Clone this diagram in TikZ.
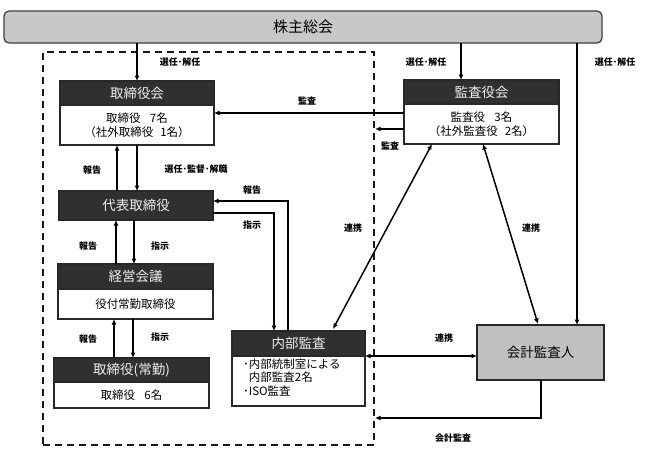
\documentclass[tikz,border=0pt]{standalone}
\usepackage{fontspec}
\setmainfont{Noto Sans CJK JP}
\usetikzlibrary{arrows.meta,calc}
\definecolor{hdrfill}{RGB}{48,48,48}
\definecolor{kabufill}{RGB}{200,200,200}
\definecolor{kkfill}{RGB}{192,192,192}
\definecolor{edge}{RGB}{40,40,40}
\begin{document}
\begin{tikzpicture}[x=1pt,y=-1pt,
  boxbase/.style={draw=edge,line width=1.1pt,anchor=north west,inner sep=0pt,outer sep=0pt},
  hdr/.style={boxbase,fill=hdrfill,text=white!94!black,font=\fontsize{13.5}{15}\selectfont},
  bdy/.style={boxbase,fill=white,align=center,font=\fontsize{11.5}{14.5}\selectfont},
  lbl/.style={font=\bfseries\fontsize{9}{10}\selectfont,inner sep=1pt},
  arr/.style={-{Latex[length=5.5pt,width=5pt]},line width=1.5pt},
  darr/.style={{Latex[length=5.5pt,width=5pt]}-{Latex[length=5.5pt,width=5pt]},line width=1.5pt}]
\useasboundingbox (0,0) rectangle (649,469);
% group (dashed)
\node[draw=black!90,line width=2pt,dash pattern=on 7pt off 5pt,anchor=north west,inner sep=0pt,
  minimum width=331pt,minimum height=393pt] (grp) at (42,51) {};
% shareholders
\node[boxbase,draw=black!75,line width=1.3pt,fill=kabufill,rounded corners=5pt,minimum width=598pt,minimum height=32pt,
  font=\fontsize{15}{17}\selectfont] (kabu) at (4,11) {株主総会};
% board
\node[hdr,minimum width=154pt,minimum height=24pt] (tbh) at (60,81) {取締役会};
\node[bdy,minimum width=154pt,minimum height=40pt] (tbb) at (60,105) {取締役\hspace{0.8em}7名\\（社外取締役\hspace{0.6em}1名）};
% auditors
\node[hdr,minimum width=155pt,minimum height=24pt] (kbh) at (404,80) {監査役会};
\node[bdy,minimum width=155pt,minimum height=40pt] (kbb) at (404,104) {監査役\hspace{0.8em}3名\\（社外監査役\hspace{0.6em}2名）};
% representative director
\node[hdr,minimum width=154pt,minimum height=29pt] (dh) at (59,191) {代表取締役};
% management meeting
\node[hdr,minimum width=155pt,minimum height=25pt] (kgh) at (58,264) {経営会議};
\node[bdy,minimum width=155pt,minimum height=30pt] (kgb) at (58,289) {役付常勤取締役};
% full-time directors
\node[hdr,minimum width=155pt,minimum height=24pt] (jh) at (54,358) {取締役(常勤)};
\node[bdy,minimum width=155pt,minimum height=26pt] (jb) at (54,382) {取締役\hspace{0.8em}6名};
% internal audit
\node[hdr,minimum width=133pt,minimum height=25pt] (nh) at (232,331) {内部監査};
\node[bdy,minimum width=133pt,minimum height=50pt] (nb) at (232,356) {};
\node[anchor=north west,align=left,inner sep=0pt,font=\fontsize{11.5}{13.5}\selectfont] (nbt) at (243,358.5)
  {･内部統制室による\\\hphantom{･}内部監査2名\\･ISO監査};
% accounting auditor
\node[boxbase,fill=kkfill,line width=1.3pt,minimum width=127pt,minimum height=55pt,font=\fontsize{13.5}{15}\selectfont] (kk) at (477,325) {会計監査人};

% helper coordinates
\coordinate (kbtop) at ($(kbh.north west)+(57,0)$);
\coordinate (kktop) at ($(kk.north west)+(100,0)$);
\coordinate (kbw1) at ($(kbb.north west)+(0,9)$);
\coordinate (kbw2) at ($(kbb.north west)+(0,25)$);
\coordinate (u1) at ($(tbb.south west)+(57,0)$);
\coordinate (u2) at ($(dh.south west)+(57,0)$);
\coordinate (v2) at ($(dh.south west)+(75,0)$);
\coordinate (u3) at ($(kgb.south west)+(56,0)$);
\coordinate (v3) at ($(kgb.south west)+(75,0)$);
\coordinate (n1) at ($(nh.north west)+(56,0)$);
\coordinate (d1) at ($(dh.north east)+(0,10)$);
\coordinate (n2) at ($(nh.north west)+(42,0)$);
\coordinate (d2) at ($(dh.north east)+(0,22)$);
\coordinate (kb1) at ($(kbb.south west)+(28,0)$);
\coordinate (n3) at ($(nh.north west)+(101,-2)$);
\coordinate (kb2) at ($(kbb.south west)+(79,0)$);
\coordinate (kk1) at ($(kk.north west)+(61,-1)$);
\coordinate (kk2) at ($(kk.south west)+(64,0)$);
\coordinate (g1) at ($(kk.south west)+(64,38)$);

% connectors
\draw[arr] (kabu.south -| tbh.north) -- (tbh.north);
\draw[arr] (kabu.south -| kbtop) -- (kbtop);
\draw[arr] (kabu.south -| kktop) -- (kktop);
\draw[arr] (kbw1) -- (kbw1 -| tbb.east);
\draw[arr] (kbw2) -- (kbw2 -| grp.east);
\draw[arr] (u1 |- dh.north) -- (u1);
\draw[arr] (tbb.south) -- (tbb.south |- dh.north);
\draw[arr] (u2 |- kgh.north) -- (u2);
\draw[arr] (v2) -- (v2 |- kgh.north);
\draw[arr] (u3 |- jh.north) -- (u3);
\draw[arr] (v3) -- (v3 |- jh.north);
\draw[arr] (n1) |- (d1);
\draw[arr] (d2) -| (n2);
\draw[darr] (kb1) -- (n3);
\draw[darr] (kb2) -- (kk1);
\draw[darr] (nb.north east) -- (nb.north east -| kk.west);
\draw[arr] (kk2) |- (g1 -| grp.east);

% labels
\node[lbl] (l1) at (180,62) {選任･解任};
\node[lbl] (l2) at (426,62) {選任･解任};
\node[lbl] (l3) at (615,62) {選任･解任};
\node[lbl] (l4) at (307,101) {監査};
\node[lbl] (l5) at (390,146) {監査};
\node[lbl] (l6) at (92,170) {報告};
\node[lbl] (l7) at (196,169) {選任･監督･解職};
\node[lbl] (l8) at (88,246) {報告};
\node[lbl] (l9) at (160,246) {指示};
\node[lbl] (l10) at (88,339) {報告};
\node[lbl] (l11) at (160,337) {指示};
\node[lbl] (l12) at (252,190) {報告};
\node[lbl] (l13) at (252,225) {指示};
\node[lbl] (l14) at (353,228) {連携};
\node[lbl] (l15) at (531,228) {連携};
\node[lbl] (l16) at (444,338) {連携};
\node[lbl] (l17) at (453,438) {会計監査};
\end{tikzpicture}
\end{document}
